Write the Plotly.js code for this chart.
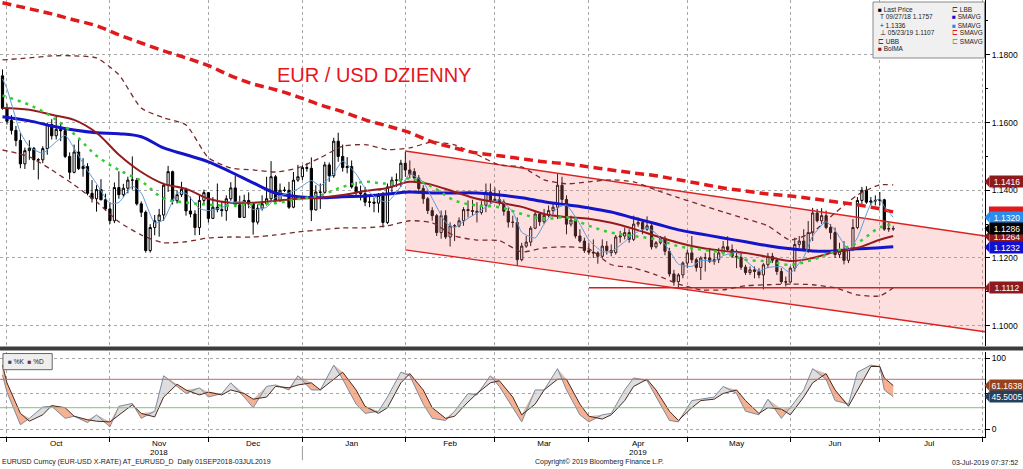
<!DOCTYPE html>
<html><head><meta charset="utf-8">
<script src="https://cdn.plot.ly/plotly-3.0.1.min.js"></script>
<style>html,body{margin:0;padding:0;background:#fff;overflow:hidden}#chart{width:1023px;height:469px}</style>
</head><body><div id="chart"></div>
<script>
// ---------- daily candles ----------
const dates = [
'2018-09-27','2018-09-28',
'2018-10-01','2018-10-02','2018-10-03','2018-10-04','2018-10-05','2018-10-08','2018-10-09','2018-10-10','2018-10-11','2018-10-12','2018-10-15','2018-10-16','2018-10-17','2018-10-18','2018-10-19','2018-10-22','2018-10-23','2018-10-24','2018-10-25','2018-10-26','2018-10-29','2018-10-30','2018-10-31',
'2018-11-01','2018-11-02','2018-11-05','2018-11-06','2018-11-07','2018-11-08','2018-11-09','2018-11-12','2018-11-13','2018-11-14','2018-11-15','2018-11-16','2018-11-19','2018-11-20','2018-11-21','2018-11-22','2018-11-23','2018-11-26','2018-11-27','2018-11-28','2018-11-29','2018-11-30',
'2018-12-03','2018-12-04','2018-12-05','2018-12-06','2018-12-07','2018-12-10','2018-12-11','2018-12-12','2018-12-13','2018-12-14','2018-12-17','2018-12-18','2018-12-19','2018-12-20','2018-12-21','2018-12-24','2018-12-25','2018-12-26','2018-12-27','2018-12-28','2018-12-31',
'2019-01-01','2019-01-02','2019-01-03','2019-01-04','2019-01-07','2019-01-08','2019-01-09','2019-01-10','2019-01-11','2019-01-14','2019-01-15','2019-01-16','2019-01-17','2019-01-18','2019-01-21','2019-01-22','2019-01-23','2019-01-24','2019-01-25','2019-01-28','2019-01-29','2019-01-30','2019-01-31',
'2019-02-01','2019-02-04','2019-02-05','2019-02-06','2019-02-07','2019-02-08','2019-02-11','2019-02-12','2019-02-13','2019-02-14','2019-02-15','2019-02-18','2019-02-19','2019-02-20','2019-02-21','2019-02-22','2019-02-25','2019-02-26','2019-02-27','2019-02-28',
'2019-03-01','2019-03-04','2019-03-05','2019-03-06','2019-03-07','2019-03-08','2019-03-11','2019-03-12','2019-03-13','2019-03-14','2019-03-15','2019-03-18','2019-03-19','2019-03-20','2019-03-21','2019-03-22','2019-03-25','2019-03-26','2019-03-27','2019-03-28','2019-03-29',
'2019-04-01','2019-04-02','2019-04-03','2019-04-04','2019-04-05','2019-04-08','2019-04-09','2019-04-10','2019-04-11','2019-04-12','2019-04-15','2019-04-16','2019-04-17','2019-04-18','2019-04-19','2019-04-22','2019-04-23','2019-04-24','2019-04-25','2019-04-26','2019-04-29','2019-04-30',
'2019-05-01','2019-05-02','2019-05-03','2019-05-06','2019-05-07','2019-05-08','2019-05-09','2019-05-10','2019-05-13','2019-05-14','2019-05-15','2019-05-16','2019-05-17','2019-05-20','2019-05-21','2019-05-22','2019-05-23','2019-05-24','2019-05-27','2019-05-28','2019-05-29','2019-05-30','2019-05-31',
'2019-06-03','2019-06-04','2019-06-05','2019-06-06','2019-06-07','2019-06-10','2019-06-11','2019-06-12','2019-06-13','2019-06-14','2019-06-17','2019-06-18','2019-06-19','2019-06-20','2019-06-21','2019-06-24','2019-06-25','2019-06-26','2019-06-27','2019-06-28',
'2019-07-01','2019-07-02','2019-07-03'];
const open = [
1.1738,1.1642,
1.1606,1.1577,1.1547,1.1478,1.1517,1.1524,1.1490,1.1490,1.1523,1.1594,1.1561,1.1580,1.1576,1.1500,1.1453,1.1513,1.1464,1.1470,1.1391,1.1375,1.1402,1.1372,1.1345,
1.1310,1.1408,1.1387,1.1406,1.1430,1.1430,1.1360,1.1335,1.1222,1.1290,1.1310,1.1327,1.1415,1.1455,1.1369,1.1387,1.1403,1.1339,1.1330,1.1290,1.1370,1.1393,
1.1317,1.1350,1.1343,1.1340,1.1375,1.1407,1.1357,1.1320,1.1370,1.1360,1.1306,1.1347,1.1360,1.1375,1.1440,1.1370,1.1400,1.1400,1.1350,1.1430,1.1440,
1.1467,1.1465,1.1342,1.1395,1.1394,1.1475,1.1443,1.1545,1.1500,1.1467,1.1470,1.1410,1.1395,1.1390,1.1365,1.1365,1.1362,1.1385,1.1305,1.1410,1.1430,1.1430,1.1480,
1.1460,1.1455,1.1436,1.1405,1.1375,1.1340,1.1325,1.1275,1.1325,1.1262,1.1295,1.1295,1.1310,1.1343,1.1340,1.1338,1.1334,1.1356,1.1395,1.1370,
1.1373,1.1365,1.1338,1.1306,1.1305,1.1195,1.1235,1.1247,1.1288,1.1330,1.1307,1.1326,1.1340,1.1350,1.1415,1.1373,1.1300,1.1312,1.1265,1.1250,1.1222,
1.1217,1.1215,1.1205,1.1235,1.1222,1.1216,1.1262,1.1265,1.1275,1.1255,1.1300,1.1305,1.1285,1.1295,1.1233,1.1245,1.1258,1.1220,1.1153,1.1130,1.1150,1.1185,
1.1215,1.1195,1.1172,1.1200,1.1200,1.1190,1.1195,1.1215,1.1233,1.1225,1.1205,1.1203,1.1173,1.1157,1.1165,1.1160,1.1150,1.1180,1.1205,1.1193,1.1160,1.1130,1.1129,
1.1170,1.1240,1.1250,1.1225,1.1275,1.1333,1.1310,1.1325,1.1290,1.1275,1.1210,1.1220,1.1193,1.1225,1.1290,1.1370,1.1400,1.1365,1.1368,1.1370,
1.1372,1.1285,1.1287];
const high = [
1.1757,1.1656,
1.1622,1.1590,1.1570,1.1526,1.1548,1.1528,1.1495,1.1530,1.1600,1.1610,1.1621,1.1600,1.1580,1.1512,1.1535,1.1550,1.1495,1.1480,1.1430,1.1415,1.1433,1.1390,1.1365,
1.1423,1.1456,1.1419,1.1440,1.1500,1.1436,1.1367,1.1340,1.1300,1.1327,1.1345,1.1422,1.1472,1.1458,1.1400,1.1425,1.1408,1.1381,1.1341,1.1385,1.1402,1.1395,
1.1380,1.1420,1.1365,1.1385,1.1424,1.1443,1.1384,1.1387,1.1394,1.1361,1.1358,1.1385,1.1440,1.1486,1.1445,1.1420,1.1410,1.1425,1.1454,1.1475,1.1474,
1.1480,1.1497,1.1415,1.1420,1.1484,1.1482,1.1555,1.1570,1.1535,1.1498,1.1488,1.1425,1.1414,1.1410,1.1385,1.1379,1.1392,1.1395,1.1420,1.1440,1.1450,1.1490,1.1514,
1.1488,1.1465,1.1445,1.1415,1.1380,1.1350,1.1330,1.1340,1.1341,1.1305,1.1300,1.1320,1.1350,1.1370,1.1372,1.1365,1.1368,1.1420,1.1420,1.1408,
1.1398,1.1373,1.1349,1.1325,1.1320,1.1245,1.1265,1.1294,1.1339,1.1335,1.1345,1.1355,1.1362,1.1448,1.1440,1.1385,1.1325,1.1315,1.1285,1.1260,1.1244,
1.1255,1.1220,1.1255,1.1250,1.1240,1.1268,1.1280,1.1290,1.1285,1.1325,1.1320,1.1315,1.1323,1.1300,1.1250,1.1265,1.1265,1.1230,1.1165,1.1155,1.1190,1.1225,
1.1265,1.1200,1.1205,1.1215,1.1230,1.1215,1.1230,1.1250,1.1264,1.1240,1.1225,1.1215,1.1180,1.1175,1.1175,1.1170,1.1185,1.1215,1.1215,1.1200,1.1170,1.1145,1.1175,
1.1260,1.1265,1.1285,1.1309,1.1348,1.1345,1.1347,1.1340,1.1300,1.1290,1.1245,1.1250,1.1230,1.1315,1.1380,1.1410,1.1412,1.1380,1.1385,1.1395,
1.1375,1.1305,1.1295];
const low = [
1.1638,1.1594,
1.1565,1.1530,1.1465,1.1463,1.1490,1.1460,1.1432,1.1480,1.1505,1.1550,1.1550,1.1545,1.1495,1.1432,1.1450,1.1460,1.1440,1.1385,1.1364,1.1337,1.1370,1.1340,1.1300,
1.1303,1.1375,1.1380,1.1391,1.1402,1.1355,1.1321,1.1216,1.1216,1.1267,1.1263,1.1310,1.1395,1.1358,1.1361,1.1380,1.1325,1.1320,1.1267,1.1268,1.1359,1.1305,
1.1315,1.1335,1.1322,1.1310,1.1369,1.1350,1.1318,1.1318,1.1347,1.1269,1.1299,1.1340,1.1355,1.1370,1.1360,1.1365,1.1395,1.1345,1.1347,1.1425,1.1430,
1.1455,1.1309,1.1340,1.1345,1.1390,1.1425,1.1437,1.1484,1.1455,1.1450,1.1405,1.1378,1.1370,1.1353,1.1350,1.1335,1.1334,1.1290,1.1300,1.1395,1.1410,1.1410,1.1440,
1.1435,1.1425,1.1395,1.1360,1.1330,1.1310,1.1265,1.1257,1.1256,1.1234,1.1250,1.1290,1.1295,1.1320,1.1325,1.1305,1.1328,1.1335,1.1360,1.1364,
1.1355,1.1325,1.1290,1.1290,1.1176,1.1190,1.1230,1.1235,1.1285,1.1295,1.1300,1.1320,1.1330,1.1315,1.1360,1.1270,1.1293,1.1258,1.1245,1.1215,1.1210,
1.1200,1.1183,1.1200,1.1210,1.1205,1.1210,1.1245,1.1255,1.1245,1.1250,1.1292,1.1270,1.1280,1.1225,1.1228,1.1240,1.1208,1.1145,1.1118,1.1111,1.1140,1.1170,
1.1185,1.1160,1.1135,1.1160,1.1185,1.1180,1.1185,1.1210,1.1220,1.1200,1.1170,1.1165,1.1150,1.1150,1.1140,1.1140,1.1107,1.1170,1.1185,1.1150,1.1124,1.1116,1.1125,
1.1160,1.1230,1.1220,1.1215,1.1250,1.1305,1.1300,1.1285,1.1255,1.1200,1.1200,1.1181,1.1185,1.1220,1.1285,1.1360,1.1360,1.1355,1.1355,1.1355,
1.1280,1.1277,1.1280];
const close = [
1.1642,1.1604,
1.1577,1.1547,1.1478,1.1517,1.1524,1.1490,1.1490,1.1523,1.1594,1.1561,1.1580,1.1576,1.1500,1.1453,1.1513,1.1464,1.1470,1.1391,1.1375,1.1402,1.1372,1.1345,1.1310,
1.1408,1.1387,1.1406,1.1430,1.1430,1.1360,1.1335,1.1222,1.1290,1.1310,1.1327,1.1415,1.1455,1.1369,1.1387,1.1403,1.1339,1.1330,1.1290,1.1370,1.1393,1.1317,
1.1350,1.1343,1.1340,1.1375,1.1407,1.1357,1.1320,1.1370,1.1360,1.1306,1.1347,1.1360,1.1375,1.1440,1.1370,1.1400,1.1400,1.1350,1.1430,1.1440,1.1467,
1.1465,1.1342,1.1395,1.1394,1.1475,1.1443,1.1545,1.1500,1.1467,1.1470,1.1410,1.1395,1.1390,1.1365,1.1365,1.1362,1.1385,1.1305,1.1410,1.1430,1.1430,1.1480,1.1460,
1.1447,1.1436,1.1405,1.1375,1.1340,1.1325,1.1275,1.1325,1.1262,1.1295,1.1295,1.1310,1.1343,1.1340,1.1338,1.1334,1.1356,1.1395,1.1370,1.1373,
1.1365,1.1338,1.1306,1.1305,1.1195,1.1235,1.1247,1.1288,1.1330,1.1307,1.1326,1.1340,1.1350,1.1415,1.1373,1.1300,1.1312,1.1265,1.1250,1.1222,1.1217,
1.1215,1.1205,1.1235,1.1222,1.1216,1.1262,1.1265,1.1275,1.1255,1.1300,1.1305,1.1285,1.1295,1.1233,1.1245,1.1258,1.1220,1.1153,1.1130,1.1150,1.1185,1.1215,
1.1195,1.1172,1.1200,1.1200,1.1190,1.1195,1.1215,1.1233,1.1225,1.1205,1.1203,1.1173,1.1157,1.1165,1.1160,1.1150,1.1180,1.1205,1.1193,1.1160,1.1130,1.1129,1.1170,
1.1240,1.1250,1.1225,1.1275,1.1333,1.1310,1.1325,1.1290,1.1275,1.1210,1.1220,1.1193,1.1225,1.1290,1.1370,1.1400,1.1365,1.1368,1.1370,1.1372,
1.1285,1.1287,1.1286];

// ---------- moving averages / bands (weekly readings) ----------
const lineDates = ['2018-09-27','2018-10-05','2018-10-12','2018-10-19','2018-10-26','2018-11-02','2018-11-09','2018-11-16','2018-11-23','2018-11-30','2018-12-07','2018-12-14','2018-12-21','2018-12-28','2019-01-04','2019-01-11','2019-01-18','2019-01-25','2019-02-01','2019-02-08','2019-02-15','2019-02-22','2019-03-01','2019-03-08','2019-03-15','2019-03-22','2019-03-29','2019-04-05','2019-04-12','2019-04-19','2019-04-26','2019-05-03','2019-05-10','2019-05-17','2019-05-24','2019-05-31','2019-06-07','2019-06-14','2019-06-21','2019-06-28','2019-07-03'];
const sma200 = [1.1954,1.1936,1.1921,1.1903,1.1886,1.1859,1.1835,1.1812,1.1791,1.1768,1.1738,1.1714,1.1697,1.1676,1.1652,1.1632,1.1608,1.1590,1.1570,1.1543,1.1525,1.1510,1.1502,1.1493,1.1484,1.1478,1.1469,1.1460,1.1451,1.1443,1.1431,1.1419,1.1407,1.1398,1.1389,1.1383,1.1375,1.1366,1.1357,1.1345,1.1336];
const sma100 = [1.1617,1.1605,1.1590,1.1578,1.1570,1.1567,1.1558,1.1525,1.1505,1.1484,1.1454,1.1422,1.1392,1.1381,1.1378,1.1381,1.1383,1.1389,1.1395,1.1392,1.1392,1.1392,1.1386,1.1378,1.1366,1.1357,1.1348,1.1336,1.1318,1.1301,1.1283,1.1271,1.1259,1.1248,1.1236,1.1227,1.1221,1.1221,1.1227,1.1230,1.1233];
const bolMA = [1.1643,1.1638,1.1623,1.1608,1.1570,1.1505,1.1454,1.1419,1.1404,1.1375,1.1363,1.1363,1.1369,1.1375,1.1378,1.1386,1.1398,1.1407,1.1425,1.1416,1.1395,1.1375,1.1363,1.1351,1.1330,1.1321,1.1316,1.1304,1.1286,1.1265,1.1245,1.1230,1.1221,1.1215,1.1203,1.1191,1.1200,1.1218,1.1230,1.1254,1.1265];
const upperBand = [1.1785,1.1791,1.1797,1.1797,1.1791,1.1741,1.1643,1.1614,1.1593,1.1496,1.1466,1.1460,1.1454,1.1466,1.1496,1.1530,1.1535,1.1520,1.1525,1.1543,1.1534,1.1505,1.1475,1.1469,1.1431,1.1419,1.1425,1.1431,1.1425,1.1401,1.1378,1.1357,1.1336,1.1316,1.1295,1.1253,1.1277,1.1333,1.1386,1.1416,1.1416];
const lowerBand = [1.1519,1.1499,1.1460,1.1416,1.1366,1.1307,1.1268,1.1245,1.1248,1.1259,1.1262,1.1262,1.1268,1.1277,1.1283,1.1289,1.1289,1.1295,1.1310,1.1304,1.1265,1.1253,1.1251,1.1218,1.1230,1.1233,1.1227,1.1180,1.1171,1.1150,1.1123,1.1106,1.1106,1.1118,1.1121,1.1123,1.1121,1.1112,1.1091,1.1088,1.1112];
const sma20 = [1.1680,1.1652,1.1617,1.1566,1.1502,1.1460,1.1427,1.1376,1.1364,1.1357,1.1355,1.1359,1.1362,1.1374,1.1385,1.1410,1.1425,1.1420,1.1435,1.1410,1.1370,1.1355,1.1350,1.1330,1.1315,1.1320,1.1295,1.1275,1.1265,1.1255,1.1235,1.1225,1.1215,1.1195,1.1190,1.1180,1.1195,1.1220,1.1245,1.1290,1.1300];

// ---------- twice-weekly readings: 5-day average and stochastics ----------
const midDates = ['2018-09-27','2018-09-28','2018-10-03','2018-10-05','2018-10-10','2018-10-12','2018-10-17','2018-10-19','2018-10-24','2018-10-26','2018-10-31','2018-11-02','2018-11-07','2018-11-09','2018-11-14','2018-11-16','2018-11-21','2018-11-23','2018-11-28','2018-11-30','2018-12-05','2018-12-07','2018-12-12','2018-12-14','2018-12-19','2018-12-21','2018-12-26','2018-12-28','2019-01-02','2019-01-04','2019-01-09','2019-01-11','2019-01-16','2019-01-18','2019-01-23','2019-01-25','2019-01-30','2019-02-01','2019-02-06','2019-02-08','2019-02-13','2019-02-15','2019-02-20','2019-02-22','2019-02-27','2019-03-01','2019-03-06','2019-03-08','2019-03-13','2019-03-15','2019-03-20','2019-03-22','2019-03-27','2019-03-29','2019-04-03','2019-04-05','2019-04-10','2019-04-12','2019-04-17','2019-04-19','2019-04-24','2019-04-26','2019-05-01','2019-05-03','2019-05-08','2019-05-10','2019-05-15','2019-05-17','2019-05-22','2019-05-24','2019-05-29','2019-05-31','2019-06-05','2019-06-07','2019-06-12','2019-06-14','2019-06-19','2019-06-21','2019-06-26','2019-06-28','2019-07-01','2019-07-03'];
const sma5 = [1.1729,1.1700,1.1570,1.1529,1.1509,1.1532,1.1562,1.1524,1.1458,1.1420,1.1361,1.1364,1.1412,1.1392,1.1303,1.1313,1.1391,1.1391,1.1346,1.1340,1.1349,1.1363,1.1366,1.1343,1.1350,1.1378,1.1392,1.1404,1.1429,1.1413,1.1450,1.1486,1.1448,1.1406,1.1373,1.1365,1.1411,1.1448,1.1424,1.1376,1.1305,1.1290,1.1317,1.1333,1.1359,1.1372,1.1337,1.1276,1.1259,1.1300,1.1348,1.1356,1.1300,1.1253,1.1219,1.1219,1.1248,1.1271,1.1288,1.1273,1.1222,1.1182,1.1175,1.1193,1.1191,1.1207,1.1216,1.1193,1.1161,1.1172,1.1174,1.1156,1.1203,1.1265,1.1307,1.1282,1.1225,1.1260,1.1359,1.1375,1.1352,1.1320];
const stochK = [76,52,6,15,31,32,15,18,9,20,3,32,36,15,25,75,60,50,58,45,50,65,45,30,60,62,55,75,55,55,90,70,35,22,25,45,80,75,35,15,12,25,50,48,75,60,30,10,55,55,85,55,20,10,20,22,55,72,68,45,12,10,40,42,45,60,50,25,20,42,15,30,55,85,70,40,35,80,90,88,55,45.5];
const stochD = [90,65,22,11,20,33,30,18,13,11,10,20,34,22,17,45,63,55,48,52,48,55,50,42,45,60,58,62,65,55,70,80,55,32,22,30,65,78,55,30,15,18,38,50,65,68,45,20,35,55,70,70,35,18,14,20,40,60,70,55,25,12,30,40,42,50,55,40,22,30,28,20,45,65,78,55,32,55,88,88,72,61.2];
const stochLevels = [70, 30];

// ---------- drawn channel / support ----------
const channelDates = ['2019-01-31','2019-07-31 12:00'];
const channelUpper = [1.1516, 1.1265];
const channelLower = [1.1224, 1.0982];
const supportDates = ['2019-03-29','2019-07-31 12:00'];
const supportLevel = [1.1112, 1.1112];

// ---------- axis labels ----------
const monthTickDates = ['2018-09-28','2018-10-31','2018-11-30','2018-12-31','2019-01-31','2019-02-28','2019-03-29','2019-04-30','2019-05-31','2019-06-28','2019-07-31'];
const monthLabelDates = ['2018-10-15','2018-11-15','2018-12-14','2019-01-15','2019-02-14','2019-03-15','2019-04-15','2019-05-15','2019-06-14','2019-07-15'];
const monthLabels = ['Oct','Nov','Dec','Jan','Feb','Mar','Apr','May','Jun','Jul'];
const yearLabelDates = ['2018-11-15','2019-04-15'];
const yearLabels = ['2018','2019'];

// ---------- last-value tags ----------
const hiddenTagValue = 1.1336;
const tagValues = [1.1264,1.1416,1.1320,1.1286,1.1232,1.1112];
const tagColors = ['#8E1A1E','#8E1A1E','#2B8CEB','#000000','#1010D0','#8E1A1E'];
const tagShift = [0,3,0,0,0,0];   // px lift so the 1.1400 tick label stays readable
const stochTagValues = [61.1638, 45.5005];
const stochTagColors = ['#96421C','#23405F'];

const F = 'Liberation Sans, Arial, sans-serif';
const xRange = ['2018-09-26 10:35','2019-07-31 12:00'];
const rb = [{bounds:['sat','mon']}];
const skip = {hoverinfo:'skip', showlegend:false};

const traces = [];
traces.push(Object.assign({type:'scatter', mode:'lines', xaxis:'x', yaxis:'y',
  x:[channelDates[0],channelDates[1],channelDates[1],channelDates[0]],
  y:[channelUpper[0],channelUpper[1],channelLower[1],channelLower[0]],
  fill:'toself', fillcolor:'rgba(245,120,120,0.24)', line:{width:0}}, skip));
traces.push(Object.assign({type:'scatter', mode:'lines', x:channelDates, y:channelUpper, line:{color:'#DD2222', width:1.4}}, skip));
traces.push(Object.assign({type:'scatter', mode:'lines', x:channelDates, y:channelLower, line:{color:'#DD2222', width:1.4}}, skip));
traces.push(Object.assign({type:'scatter', mode:'lines', x:supportDates, y:supportLevel, line:{color:'#D42020', width:1.6}}, skip));
traces.push(Object.assign({type:'candlestick', x:dates, open:open, high:high, low:low, close:close, xaxis:'x', yaxis:'y',
  whiskerwidth:0,
  increasing:{line:{color:'#000', width:1}, fillcolor:'#ffffff'},
  decreasing:{line:{color:'#000', width:1}, fillcolor:'#000000'}}, skip));
traces.push(Object.assign({type:'scatter', mode:'lines', x:lineDates, y:upperBand, line:{color:'#7A2A2A', width:1.3, dash:'5px,4px', shape:'spline', smoothing:0.6}}, skip));
traces.push(Object.assign({type:'scatter', mode:'lines', x:lineDates, y:lowerBand, line:{color:'#7A2A2A', width:1.3, dash:'5px,4px', shape:'spline', smoothing:0.6}}, skip));
traces.push(Object.assign({type:'scatter', mode:'lines', x:lineDates, y:sma200, line:{color:'#E0191C', width:3.5, dash:'9px,5px', shape:'spline'}}, skip));
traces.push(Object.assign({type:'scatter', mode:'lines', x:lineDates, y:sma100, line:{color:'#1414C8', width:3, shape:'spline'}}, skip));
traces.push(Object.assign({type:'scatter', mode:'lines', x:lineDates, y:bolMA, line:{color:'#961B1E', width:2, shape:'spline'}}, skip));
traces.push(Object.assign({type:'scatter', mode:'lines', x:lineDates, y:sma20, line:{color:'#33CC33', width:2.5, dash:'3px,5px', shape:'spline'}}, skip));
traces.push(Object.assign({type:'scatter', mode:'lines', x:midDates, y:sma5, line:{color:'#5B9BD5', width:1, shape:'spline', smoothing:0.5}}, skip));

const maxKD = stochK.map((k,i)=>Math.max(k, stochD[i]));
traces.push(Object.assign({type:'scatter', mode:'lines', x:midDates, y:stochK, xaxis:'x2', yaxis:'y2', line:{width:0}}, skip));
traces.push(Object.assign({type:'scatter', mode:'lines', x:midDates, y:maxKD, xaxis:'x2', yaxis:'y2', line:{width:0}, fill:'tonexty', fillcolor:'rgba(243,150,110,0.75)'}, skip));
traces.push(Object.assign({type:'scatter', mode:'lines', x:midDates, y:stochD, xaxis:'x2', yaxis:'y2', line:{width:0}}, skip));
traces.push(Object.assign({type:'scatter', mode:'lines', x:midDates, y:maxKD, xaxis:'x2', yaxis:'y2', line:{width:0}, fill:'tonexty', fillcolor:'rgba(200,200,200,0.6)'}, skip));
traces.push(Object.assign({type:'scatter', mode:'lines', x:midDates, y:stochK, xaxis:'x2', yaxis:'y2', line:{color:'#7D8A9E', width:1}}, skip));
traces.push(Object.assign({type:'scatter', mode:'lines', x:midDates, y:stochD, xaxis:'x2', yaxis:'y2', line:{color:'#4A2A20', width:1}}, skip));
traces.push(Object.assign({type:'scatter', mode:'markers', x:[monthLabelDates[0]], y:[50], xaxis:'x3', yaxis:'y2', marker:{opacity:0}}, skip));

const grid = {showgrid:true, gridcolor:'#a8a8a8', griddash:'dot', gridwidth:1};
const layout = {
  width:1023, height:469, margin:{l:0, r:38, t:0, b:32},
  paper_bgcolor:'#fff', plot_bgcolor:'rgba(0,0,0,0)', showlegend:false,
  font:{family:F, size:8, color:'#000'},
  xaxis:Object.assign({domain:[0,1], anchor:'y', type:'date', range:xRange, rangebreaks:rb,
    rangeslider:{visible:false}, tickmode:'array', tickvals:monthTickDates, showticklabels:false,
    ticks:'', zeroline:false, showline:false}, grid),
  xaxis2:Object.assign({domain:[0,1], anchor:'y2', type:'date', range:xRange, rangebreaks:rb, matches:'x',
    tickmode:'array', tickvals:monthTickDates, showticklabels:false, ticks:'outside', ticklen:4,
    tickcolor:'#000', showline:true, linecolor:'#000', linewidth:1, zeroline:false}, grid),
  xaxis3:{overlaying:'x2', anchor:'y2', type:'date', range:xRange, rangebreaks:rb, tickmode:'array',
    tickvals:monthLabelDates, ticktext:monthLabels, ticks:'', showgrid:false, showline:false,
    zeroline:false, tickfont:{size:8, family:F}, side:'bottom'},
  yaxis:Object.assign({domain:[0.2082,1], anchor:'x', side:'right', range:[1.0940,1.1962],
    tickmode:'linear', tick0:1.10, dtick:0.02, tickformat:'.4f', ticks:'outside', ticklen:4, tickcolor:'#000',
    minor:{tick0:1.09, dtick:0.01, ticks:'outside', ticklen:2, tickcolor:'#000', showgrid:false},
    showline:true, linecolor:'#000', linewidth:1, zeroline:false, tickfont:{size:8.5, family:F}}, grid),
  yaxis2:Object.assign({domain:[0,0.1945], anchor:'x2', side:'right', range:[-11.27,108.45],
    tickmode:'array', tickvals:[0,50,100], ticktext:['0','','100'], ticks:'outside', ticklen:4, tickcolor:'#000',
    showline:true, linecolor:'#000', linewidth:1, zeroline:false, tickfont:{size:8.5, family:F}}, grid),
  shapes:[], annotations:[]
};

const S = layout.shapes;
const lvlColors = ['#C86464','#7CC47C'];
stochLevels.forEach((v,i)=>S.push({type:'line', xref:'paper', yref:'y2', x0:0, x1:1, y0:v, y1:v, line:{color:lvlColors[i], width:1}}));
S.push({type:'line', xref:'paper', yref:'paper', x0:0, x1:1.04, y0:0.2025, y1:0.2025, line:{color:'#3c3c3c', width:4}});
S.push({type:'line', xref:'x', yref:'paper', x0:monthTickDates[3], x1:monthTickDates[3], y0:-0.053, y1:-0.021, line:{color:'#999', width:1}});
S.push({type:'rect', xref:'paper', yref:'paper', x0:0.8863, x1:0.9995, y0:0.8673, y1:0.9954, fillcolor:'#F0F0F0', line:{color:'#8a8a8a', width:1}});
S.push({type:'rect', xref:'paper', yref:'paper', x0:0.003, x1:0.053, y0:0.154, y1:0.191, fillcolor:'#EEEEEE', line:{color:'#666', width:1}});
S.push({type:'rect', xref:'paper', yref:'y', x0:1.004, x1:1.0386, y0:hiddenTagValue-0.0016, y1:hiddenTagValue+0.0016, fillcolor:'#E0191C', line:{width:0}, layer:'above'});
const pxY = 0.0003;   // price units per pixel in the upper panel
const tri = (yref, v, h, c)=>S.push({type:'path', xref:'paper', yref:yref, path:`M 0.9995 ${v} L 1.0045 ${v+h} L 1.0045 ${v-h} Z`, fillcolor:c, line:{width:0}});
tagValues.forEach((v,i)=>tri('y', v + tagShift[i]*pxY, 0.0016, tagColors[i]));
stochTagValues.forEach((v,i)=>tri('y2', v, 7.5, stochTagColors[i]));

const A = layout.annotations;
yearLabelDates.forEach((d,i)=>A.push({xref:'x', yref:'paper', x:d, y:-0.035, text:yearLabels[i], showarrow:false, font:{size:8, family:F}, xanchor:'center', yanchor:'middle'}));
A.push({xref:'paper', yref:'paper', x:0.279, y:0.828, xanchor:'left', yanchor:'middle', text:'EUR / USD DZIENNY', showarrow:false, font:{size:20, color:'#E8141B', family:F}});
A.push({xref:'paper', yref:'paper', x:0.0, y:-0.058, xanchor:'left', yanchor:'middle', showarrow:false, text:'EURUSD Curncy (EUR-USD X-RATE) AT_EURUSD_D  Daily 01SEP2018-03JUL2019', font:{size:7, family:F, color:'#222'}});
A.push({xref:'paper', yref:'paper', x:0.609, y:-0.058, xanchor:'center', yanchor:'middle', showarrow:false, text:'Copyright© 2019 Bloomberg Finance L.P.', font:{size:7, family:F, color:'#222'}});
A.push({xref:'paper', yref:'paper', x:1.0355, y:-0.058, xanchor:'right', yanchor:'middle', showarrow:false, text:'03-Jul-2019 07:37:52', font:{size:7, family:F, color:'#222'}});
tagValues.forEach((v,i)=>A.push({xref:'paper', yref:'y', x:1.0, xshift:4, y:v, yshift:tagShift[i], xanchor:'left', yanchor:'middle', showarrow:false,
  text:v.toFixed(4), bgcolor:tagColors[i], font:{color:'#fff', size:8.5, family:F}, borderpad:0.5, width:33, height:10}));
stochTagValues.forEach((v,i)=>A.push({xref:'paper', yref:'y2', x:1.0, xshift:4, y:v, xanchor:'left', yanchor:'middle', showarrow:false,
  text:v.toFixed(4), bgcolor:stochTagColors[i], font:{color:'#fff', size:8.5, family:F}, borderpad:0.5, width:33, height:10}));
const lg = (x,ypx,txt)=>A.push({xref:'paper', yref:'paper', x:x/985, y:1-ypx/437, xanchor:'left', yanchor:'middle', showarrow:false, text:txt, font:{size:6.5, family:F, color:'#222'}});
lg(876,9,'<span style="color:#000">■</span> Last Price');
lg(878,17,'T 09/27/18 1.1757');
lg(878,25,'+ 1.1336');
lg(878,33,'⊥ 05/23/19 1.1107');
lg(876,41,'<span style="color:#8E1A1E">⊏</span> UBB');
lg(876,49,'<span style="color:#8E1A1E">■</span> BolMA');
lg(950,9,'<span style="color:#8E1A1E">⊏</span> LBB');
lg(950,17,'<span style="color:#1010D0">■</span> SMAVG');
lg(950,25,'<span style="color:#2B8CEB">■</span> SMAVG');
lg(950,33,'<span style="color:#E0191C">⊏</span> SMAVG');
lg(950,41,'<span style="color:#33CC33">⊏</span> SMAVG');
A.push({xref:'paper', yref:'paper', x:0.006, y:0.1725, xanchor:'left', yanchor:'middle', showarrow:false,
  text:'<span style="color:#1F4E79">■</span> %K  <span style="color:#7B2C1A">■</span> %D', font:{size:6.5, family:F, color:'#222'}});

Plotly.newPlot('chart', traces, layout, {staticPlot:true, displayModeBar:false});
</script>
</body></html>
